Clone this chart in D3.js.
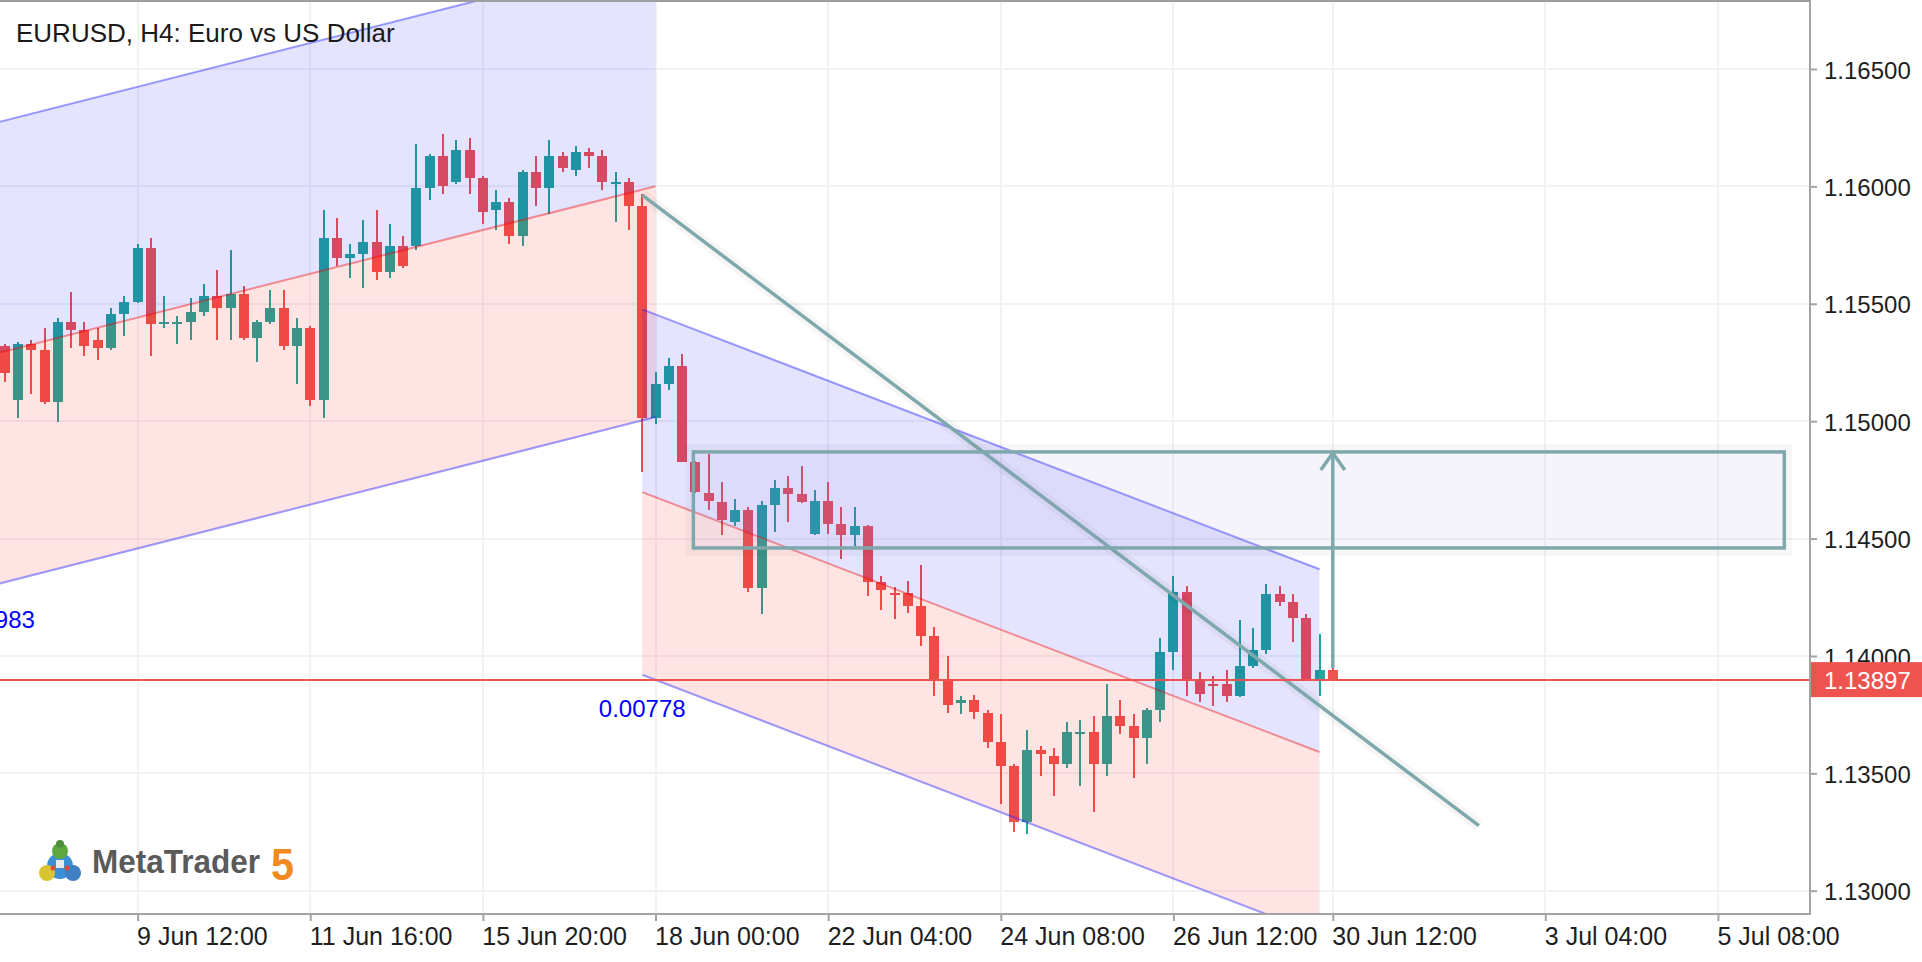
<!DOCTYPE html>
<html><head><meta charset="utf-8">
<script src="https://cdn.jsdelivr.net/npm/d3@7"></script>
<style>html,body{margin:0;padding:0;background:#fff;overflow:hidden}</style>
</head><body><svg id="chart" width="1922" height="962"></svg>
<script>
// ---------------- data ----------------
const title = "EURUSD, H4: Euro vs US Dollar";
const firstBar = -10; // bar index of first candle (bar 0 = 9 Jun 12:00)
const open = [1.15320,1.15090,1.15329,1.15303,1.15081,1.15422,1.15388,1.15346,1.15311,1.15456,
1.15507,1.15737,1.15414,1.15414,1.15422,1.15465,1.15533,1.15482,1.15541,1.15354,
1.15422,1.15482,1.15320,1.15397,1.15090,1.15780,1.15695,1.15712,1.15763,1.15635,
1.15746,1.15746,1.15993,1.16130,1.16019,1.16155,1.16036,1.15900,1.15934,1.15789,
1.16061,1.15993,1.16130,1.16070,1.16147,1.16130,1.16010,1.16019,1.15917,1.15014,
1.15158,1.15235,1.14825,1.14696,1.14655,1.14572,1.14620,1.14288,1.14645,1.14714,
1.14689,1.14519,1.14661,1.14560,1.14513,1.14554,1.14314,1.14270,1.14270,1.14213,
1.14083,1.13894,1.13799,1.13812,1.13758,1.13633,1.13531,1.13293,1.13599,1.13574,
1.13540,1.13667,1.13676,1.13540,1.13744,1.13702,1.13650,1.13770,1.14017,1.14272,
1.13897,1.13880,1.13880,1.13829,1.13957,1.14025,1.14264,1.14230,1.14162,1.13897,
1.13940];
const high = [1.15329,1.15337,1.15346,1.15397,1.15439,1.15550,1.15422,1.15397,1.15482,1.15533,
1.15754,1.15780,1.15533,1.15448,1.15524,1.15584,1.15644,1.15729,1.15576,1.15431,
1.15559,1.15559,1.15439,1.15405,1.15899,1.15865,1.15755,1.15857,1.15900,1.15840,
1.15789,1.16181,1.16138,1.16223,1.16198,1.16206,1.16044,1.15985,1.15951,1.16070,
1.16130,1.16198,1.16147,1.16172,1.16164,1.16155,1.16061,1.16036,1.15968,1.15210,
1.15269,1.15286,1.14830,1.14860,1.14740,1.14670,1.14636,1.14661,1.14749,1.14765,
1.14809,1.14705,1.14740,1.14636,1.14636,1.14556,1.14339,1.14295,1.14320,1.14389,
1.14124,1.13998,1.13828,1.13834,1.13768,1.13753,1.13540,1.13685,1.13616,1.13608,
1.13719,1.13727,1.13744,1.13880,1.13812,1.13753,1.13778,1.14076,1.14340,1.14298,
1.13932,1.13914,1.13940,1.14153,1.14119,1.14306,1.14298,1.14264,1.14179,1.14094,
1.13949];
const low = [1.15168,1.15013,1.15116,1.15073,1.14996,1.15311,1.15277,1.15260,1.15303,1.15363,
1.15505,1.15277,1.15397,1.15329,1.15346,1.15448,1.15346,1.15346,1.15346,1.15252,
1.15414,1.15303,1.15158,1.15064,1.15013,1.15661,1.15610,1.15567,1.15601,1.15610,
1.15652,1.15729,1.15942,1.15968,1.16010,1.15968,1.15840,1.15814,1.15755,1.15746,
1.15917,1.15883,1.16061,1.16044,1.16079,1.15985,1.15848,1.15814,1.14783,1.14988,
1.15133,1.14826,1.14695,1.14623,1.14513,1.14554,1.14273,1.14178,1.14528,1.14569,
1.14652,1.14517,1.14519,1.14415,1.14468,1.14254,1.14194,1.14159,1.14184,1.14042,
1.13828,1.13758,1.13752,1.13733,1.13607,1.13369,1.13250,1.13241,1.13488,1.13403,
1.13523,1.13446,1.13335,1.13488,1.13667,1.13480,1.13540,1.13719,1.13940,1.13829,
1.13804,1.13787,1.13804,1.13827,1.13949,1.14008,1.14213,1.14059,1.13895,1.13829,
1.13897];
const close = [1.15204,1.15329,1.15303,1.15081,1.15422,1.15388,1.15320,1.15311,1.15456,1.15507,
1.15737,1.15414,1.15422,1.15422,1.15465,1.15533,1.15482,1.15541,1.15354,1.15422,
1.15482,1.15320,1.15397,1.15090,1.15780,1.15695,1.15712,1.15763,1.15635,1.15746,
1.15661,1.15993,1.16130,1.16002,1.16155,1.16036,1.15891,1.15934,1.15789,1.16061,
1.15993,1.16130,1.16079,1.16147,1.16130,1.16019,1.16019,1.15917,1.15014,1.15158,
1.15235,1.14828,1.14699,1.14658,1.14579,1.14620,1.14288,1.14645,1.14714,1.14689,
1.14655,1.14661,1.14560,1.14513,1.14554,1.14314,1.14279,1.14263,1.14213,1.14083,
1.13894,1.13793,1.13812,1.13761,1.13632,1.13531,1.13293,1.13599,1.13582,1.13540,
1.13676,1.13676,1.13540,1.13744,1.13702,1.13650,1.13770,1.14017,1.14272,1.13897,
1.13838,1.13872,1.13829,1.13957,1.14025,1.14264,1.14230,1.14162,1.13897,1.13940,
1.13897];
const currentPrice = 1.13897;
const yTicks = [1.130, 1.135, 1.140, 1.145, 1.150, 1.155, 1.160, 1.165];
const xTickBars = [0, 13, 26, 39, 52, 65, 78, 90, 106, 119];
const xTickLabels = ["9 Jun 12:00","11 Jun 16:00","15 Jun 20:00","18 Jun 00:00","22 Jun 04:00",
  "24 Jun 08:00","26 Jun 12:00","30 Jun 12:00","3 Jul 04:00","5 Jul 08:00"];
// regression channels
const channelStartBar = [-11, 38];
const channelEndBar = [39, 89];
const channelMidStart = [1.15283, 1.14698];
const channelMidEnd = [1.16001, 1.13591];
const channelWidth = [0.00983, 0.00778];
// trend line, rectangle, arrow
const trendBars = [38, 101];
const trendPrices = [1.15963, 1.13277];
const rectBars = [41.85, 124];
const rectPrices = [1.14869, 1.14460];
const arrowBar = 90;
const arrowPrices = [1.13949, 1.14869];

// ---------------- layout ----------------
const W = 1922, H = 962;
const plotL = 0, plotR = 1810, plotT = 2, plotB = 914;
const svg = d3.select("#chart");
const x = d3.scaleLinear().domain([-10.361, 125.934]).range([plotL, plotR]);
const y = d3.scaleLinear().domain([1.129008, 1.167854]).range([plotB, plotT]);
const FONT = "'Liberation Sans', Arial, sans-serif";
const BULL = "#26a69a", BEAR = "#ef5350", TEAL = "#7ea8ac";

svg.append("rect").attr("width", W).attr("height", H).attr("fill", "#fff");
const defs = svg.append("defs");
defs.append("clipPath").attr("id", "plotclip").append("rect")
  .attr("x", plotL).attr("y", plotT).attr("width", plotR - plotL).attr("height", plotB - plotT);
const plot = svg.append("g").attr("clip-path", "url(#plotclip)");

// grid
plot.append("g").selectAll("line").data(yTicks).join("line")
  .attr("x1", plotL).attr("x2", plotR)
  .attr("y1", d => Math.round(y(d))).attr("y2", d => Math.round(y(d)))
  .attr("stroke", "#f2f2f4").attr("stroke-width", 2);
plot.append("g").selectAll("line").data(xTickBars).join("line")
  .attr("y1", plotT).attr("y2", plotB)
  .attr("x1", d => Math.round(x(d))).attr("x2", d => Math.round(x(d)))
  .attr("stroke", "#f2f2f4").attr("stroke-width", 2);

// candles
const candles = open.map((o, k) => ({i: firstBar + k, o, h: high[k], l: low[k], c: close[k]}));
const cg = plot.append("g").attr("shape-rendering", "crispEdges");
const cand = cg.selectAll("g").data(candles).join("g");
cand.append("rect")
  .attr("x", d => Math.round(x(d.i)) - 1).attr("width", 2)
  .attr("y", d => y(d.h)).attr("height", d => Math.max(1, y(d.l) - y(d.h)))
  .attr("fill", d => d.c >= d.o ? BULL : BEAR);
cand.append("rect")
  .attr("x", d => Math.round(x(d.i)) - 5).attr("width", 10)
  .attr("y", d => Math.min(y(d.o), y(d.c)))
  .attr("height", d => Math.max(2, Math.abs(y(d.o) - y(d.c))))
  .attr("fill", d => d.c >= d.o ? BULL : BEAR);

// regression channels
const chg = plot.append("g");
channelStartBar.forEach((sb, k) => {
  const eb = channelEndBar[k], ms = channelMidStart[k], me = channelMidEnd[k], w = channelWidth[k];
  const pts = (a, b) => [[x(sb), y(ms + a)], [x(eb), y(me + a)], [x(eb), y(me + b)], [x(sb), y(ms + b)]];
  chg.append("polygon").attr("points", pts(w, 0).join(" ")).attr("fill", "rgba(0,0,255,0.105)");
  chg.append("polygon").attr("points", pts(0, -w).join(" ")).attr("fill", "rgba(255,0,0,0.105)");
  [[w, "rgba(40,40,255,0.45)"], [-w, "rgba(40,40,255,0.45)"], [0, "rgba(240,0,0,0.4)"]].forEach(([off, col]) => {
    chg.append("line").attr("x1", x(sb)).attr("y1", y(ms + off)).attr("x2", x(eb)).attr("y2", y(me + off))
      .attr("stroke", col).attr("stroke-width", 2);
  });
});

// trend line
const tl = plot.append("g");
tl.append("line").attr("x1", x(trendBars[0])).attr("y1", y(trendPrices[0]))
  .attr("x2", x(trendBars[1])).attr("y2", y(trendPrices[1]))
  .attr("stroke", "rgba(0,0,0,0.035)").attr("stroke-width", 12);
tl.append("line").attr("x1", x(trendBars[0])).attr("y1", y(trendPrices[0]))
  .attr("x2", x(trendBars[1])).attr("y2", y(trendPrices[1]))
  .attr("stroke", TEAL).attr("stroke-width", 3.5);

// rectangle
const rx0 = x(rectBars[0]), rx1 = x(rectBars[1]), ry0 = y(rectPrices[0]), ry1 = y(rectPrices[1]);
plot.append("rect").attr("x", rx0 - 4).attr("y", ry0 - 4).attr("width", rx1 - rx0 + 8).attr("height", ry1 - ry0 + 8)
  .attr("fill", "none").attr("stroke", "rgba(0,0,0,0.03)").attr("stroke-width", 8);
plot.append("rect").attr("x", rx0).attr("y", ry0).attr("width", rx1 - rx0).attr("height", ry1 - ry0)
  .attr("fill", "rgba(160,150,215,0.1)").attr("stroke", TEAL).attr("stroke-width", 3.5);

// arrow
const ax = x(arrowBar), ayb = y(arrowPrices[0]), ayt = y(arrowPrices[1]);
plot.append("line").attr("x1", ax).attr("x2", ax).attr("y1", ayb).attr("y2", ayt + 1)
  .attr("stroke", TEAL).attr("stroke-width", 3.5);
plot.append("polyline").attr("points", [[ax - 12, ayt + 18], [ax, ayt + 1], [ax + 12, ayt + 18]].join(" "))
  .attr("fill", "none").attr("stroke", TEAL).attr("stroke-width", 3.5);

// current price line
plot.append("line").attr("x1", plotL).attr("x2", plotR)
  .attr("y1", y(currentPrice)).attr("y2", y(currentPrice))
  .attr("stroke", BEAR).attr("stroke-width", 2);

// channel width labels
channelStartBar.forEach((sb, k) => {
  svg.append("text").attr("x", x(sb)).attr("y", y(channelMidStart[k] - channelWidth[k]) + 42)
    .attr("text-anchor", "middle").attr("font-family", FONT).attr("font-size", 24)
    .attr("fill", "#0000ff").text(channelWidth[k].toFixed(5));
});

// axes
const yAxis = d3.axisRight(y).tickValues(yTicks).tickFormat(d3.format(".5f")).tickSize(7).tickPadding(7);
const yg = svg.append("g").attr("transform", `translate(${plotR},0)`).call(yAxis);
yg.select(".domain").remove();
yg.selectAll("line").attr("stroke", "#a3a3a3").attr("stroke-width", 2);
yg.selectAll("text").attr("font-family", FONT).attr("font-size", 24).attr("fill", "#1e1e1e").attr("dy", "0.38em");

const xAxis = d3.axisBottom(x).tickValues(xTickBars).tickFormat((d, k) => xTickLabels[k]).tickSize(7);
const xg = svg.append("g").attr("transform", `translate(0,${plotB})`).call(xAxis);
xg.select(".domain").remove();
xg.selectAll("line").attr("stroke", "#a3a3a3").attr("stroke-width", 2);
xg.selectAll("text").attr("font-family", FONT).attr("font-size", 25).attr("fill", "#1e1e1e")
  .attr("text-anchor", "start").attr("dy", null).attr("x", -1).attr("y", 31);

svg.append("line").attr("x1", plotR).attr("x2", plotR).attr("y1", 0).attr("y2", plotB + 1)
  .attr("stroke", "#a3a3a3").attr("stroke-width", 2);
svg.append("line").attr("x1", 0).attr("x2", plotR + 1).attr("y1", plotB).attr("y2", plotB)
  .attr("stroke", "#a3a3a3").attr("stroke-width", 2);
svg.append("line").attr("x1", 0).attr("x2", plotR).attr("y1", 1).attr("y2", 1)
  .attr("stroke", "#9e9e9e").attr("stroke-width", 2);

// current price tag
const py = y(currentPrice);
svg.append("rect").attr("x", plotR + 1).attr("y", py - 18).attr("width", W - plotR - 1).attr("height", 35).attr("fill", BEAR);
svg.append("text").attr("x", 1824).attr("y", py).attr("dy", "0.36em").attr("font-family", FONT)
  .attr("font-size", 24).attr("fill", "#fff").text(d3.format(".5f")(currentPrice));

// title
svg.append("text").attr("x", 16).attr("y", 42).attr("font-family", FONT).attr("font-size", 26)
  .attr("fill", "#1a1a1a").text(title);

// MetaTrader 5 logo
const logo = svg.append("g");
logo.append("circle").attr("cx", 60).attr("cy", 866).attr("r", 13).attr("fill", "#3b8fd6");
logo.append("circle").attr("cx", 60).attr("cy", 851).attr("r", 8).attr("fill", "#5fa83f");
logo.append("ellipse").attr("cx", 47).attr("cy", 873).attr("rx", 8).attr("ry", 8).attr("fill", "#d9c534");
logo.append("ellipse").attr("cx", 73).attr("cy", 873).attr("rx", 8).attr("ry", 8).attr("fill", "#3f7fc4");
logo.append("circle").attr("cx", 60).attr("cy", 844).attr("r", 4).attr("fill", "#4c8e3a");
logo.append("rect").attr("x", 56).attr("y", 860).attr("width", 8).attr("height", 8).attr("fill", "#e8e8e8");
logo.append("circle").attr("cx", 53).attr("cy", 868).attr("r", 2.5).attr("fill", "#e2473a");
logo.append("circle").attr("cx", 67).attr("cy", 868).attr("r", 2.5).attr("fill", "#e2473a");
logo.append("text").attr("x", 92).attr("y", 873).attr("font-family", FONT).attr("font-weight", "bold")
  .attr("font-size", 33).attr("fill", "#5a5a5a").attr("textLength", 168).attr("lengthAdjust", "spacingAndGlyphs")
  .text("MetaTrader");
logo.append("text").attr("x", 271).attr("y", 880).attr("font-family", FONT).attr("font-weight", "bold")
  .attr("font-size", 44).attr("fill", "#f28a22").attr("textLength", 23).attr("lengthAdjust", "spacingAndGlyphs")
  .text("5");
</script></body></html>
